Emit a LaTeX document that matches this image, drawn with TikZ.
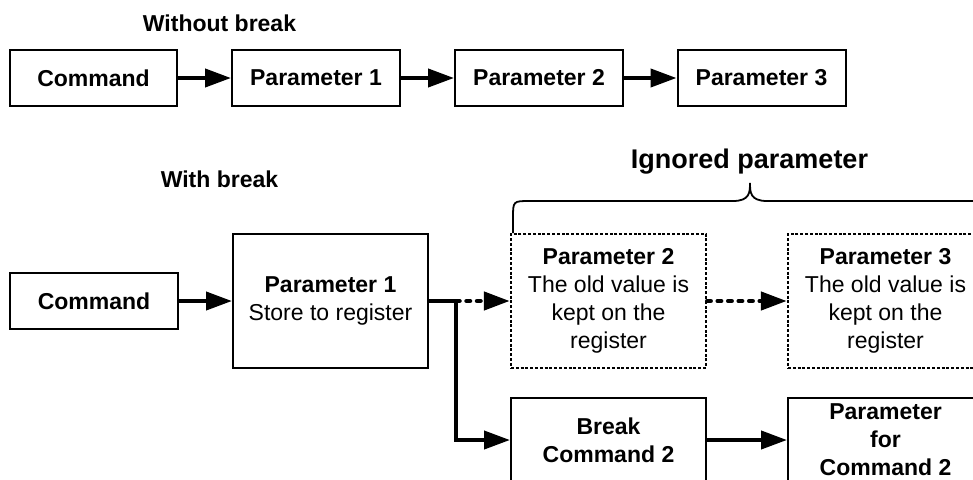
\documentclass[tikz,border=0pt]{standalone}
\usepackage{fontspec}
\setmainfont{Liberation Sans}
\usetikzlibrary{arrows.meta}

\tikzset{
  box/.style={draw, line width=2pt, inner sep=0pt, align=center,
    font=\fontsize{23}{28}\selectfont},
  solidbox/.style={box},
  dotbox/.style={box, dash pattern=on 3pt off 1.8pt, line width=2.4pt},
  conn/.style={line width=4pt},
  arr/.style={conn, -{Triangle[length=26pt,width=18pt]}},
  dotarr/.style={arr, line cap=round, dash pattern=on 3.5pt off 7pt, line width=4.5pt},
  title/.style={font=\fontsize{23}{28}\selectfont\bfseries, anchor=base, inner sep=0pt},
  bracestyle/.style={line width=1.8pt},
}

\begin{document}
\begin{tikzpicture}[x=1pt, y=-1pt]
\useasboundingbox (0,0) rectangle (973,479);
\clip (0,0) rectangle (973,479);

% sequence without break
\node[title] (t1) at (219.5,31) {Without break};
\node[solidbox, minimum width=167pt, minimum height=56pt] (c1) at (93.5,78) {\bfseries Command};
\node[solidbox, minimum width=168pt, minimum height=56pt] (p1) at (316,78) {\bfseries Parameter 1};
\node[solidbox, minimum width=168pt, minimum height=56pt] (p2) at (539,78) {\bfseries Parameter 2};
\node[solidbox, minimum width=168pt, minimum height=56pt] (p3) at (761.5,78) {\bfseries Parameter 3};

\draw[arr] (c1.east) -- (p1.west);
\draw[arr] (p1.east) -- (p2.west);
\draw[arr] (p2.east) -- (p3.west);

% sequence with break
\node[title] (t2) at (219.5,187) {With break};
\node[solidbox, minimum width=168pt, minimum height=56pt] (c2) at (94,301) {\bfseries Command};
\node[solidbox, minimum width=195pt, minimum height=134pt] (q1) at (330.5,301)
  {\bfseries Parameter 1\\Store to register};
\node[dotbox, minimum width=195pt, minimum height=134pt] (q2) at (608.5,301)
  {\bfseries Parameter 2\\The old value is\\kept on the\\register};
\node[dotbox, minimum width=195pt, minimum height=134pt] (q3) at (885.5,301)
  {\bfseries Parameter 3\\The old value is\\kept on the\\register};
\node[solidbox, minimum width=195pt, minimum height=84pt] (b) at (608.5,440)
  {\bfseries Break\\\bfseries Command 2};
\node[solidbox, minimum width=195pt, minimum height=84pt] (pc) at (885.5,440)
  {\bfseries Parameter\\\bfseries for\\\bfseries Command 2};

\coordinate (j) at (456,301);
\draw[arr] (c2.east) -- (q1.west);
\draw[conn] (q1.east) -- (j);
\draw[dotarr] (j) -- (q2.west);
\draw[arr] (j) |- (b.west);
\draw[dotarr] (q2.east) -- (q3.west);
\draw[arr] (b.east) -- (pc.west);

% brace over the ignored parameters
\draw[bracestyle] (513,233) -- (513,218) .. controls (513,201) .. (530,201)
  -- (733,201) .. controls (750,201) and (750,192) .. (750,183)
  .. controls (750,192) and (750,201) .. (767,201)
  -- (968,201) .. controls (985,201) .. (985,218) -- (985,233);
\node[title, font=\fontsize{27}{32}\selectfont\bfseries] (ig) at (749.5,168) {Ignored parameter};
\end{tikzpicture}
\end{document}
